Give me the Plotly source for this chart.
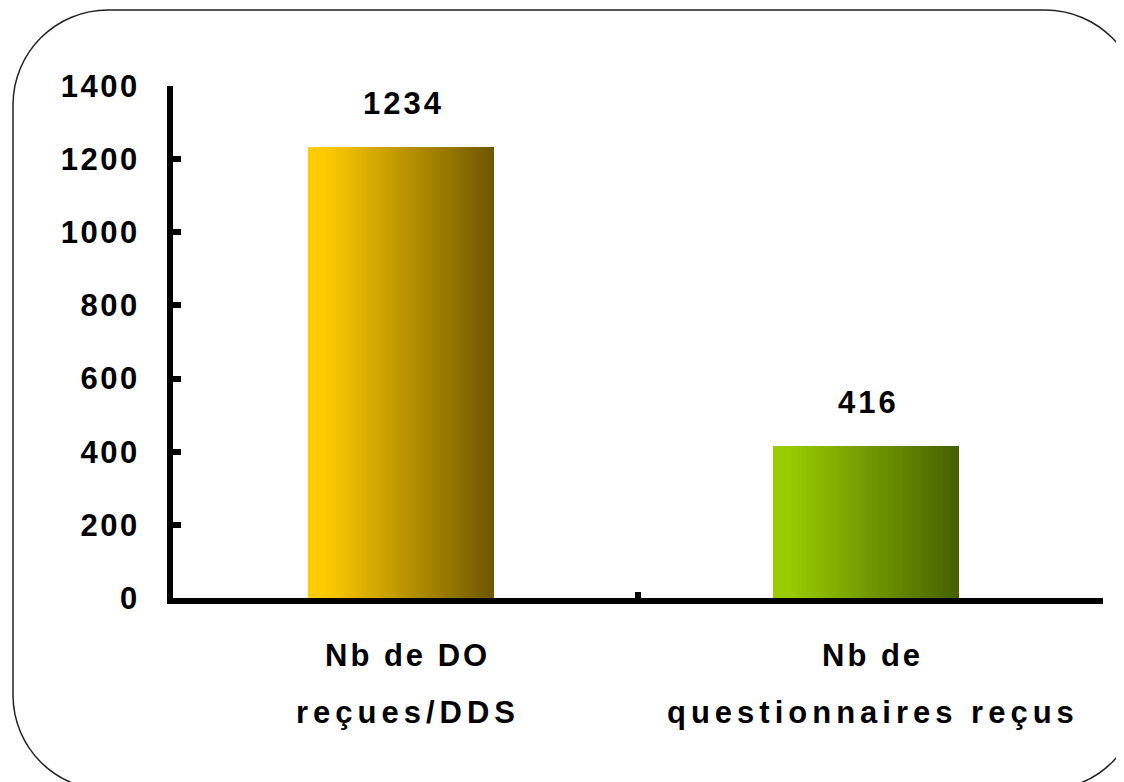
import plotly.graph_objects as go

# ---- data ----
categories = ["Nb de DO<br>reçues/DDS", "Nb de<br>questionnaires reçus"]
values = [1234, 416]
y_ticks = [0, 200, 400, 600, 800, 1000, 1200, 1400]
label_lines = [["Nb de DO", "reçues/DDS"], ["Nb de", "questionnaires reçus"]]

# gradient end colours per bar (left -> right)
grad_left = [(255, 204, 0), (153, 204, 0)]
grad_right = [(112, 88, 0), (70, 96, 0)]

FONT = "Liberation Sans, Arial, sans-serif"
OFF = 8  # page body margin
W, H = 1124 - OFF, 782 - OFF
L, R, T, B = 165, 21, 78, 184
PW, PH = W - L - R, H - T - B


def spaced(s, ls):
    return "<span style='letter-spacing:%spx'>%s</span>" % (ls, s)


fig = go.Figure()

bar_w = 0.40
bar_shift = -0.01
N = 60
step = bar_w / N


def mix(c1, c2, t):
    return "rgb(%d,%d,%d)" % tuple(round(a + (b - a) * t) for a, b in zip(c1, c2))


for i in range(N):
    t = i / (N - 1)
    t = max(0.0, (t - 0.08) / 0.92)
    cols = [mix(grad_left[k], grad_right[k], t) for k in range(len(values))]
    w = step * (1.3 if i < N - 1 else 1.0)
    fig.add_trace(go.Bar(
        x=categories, y=values, width=w, offset=bar_shift - bar_w / 2 + i * step,
        marker=dict(color=cols, line=dict(width=0)),
        showlegend=False, hoverinfo="skip"))

# value labels above bars
for c, v in zip(categories, values):
    fig.add_annotation(x=c, y=v, xref="x", yref="y", text=spaced(str(v), 3), showarrow=False,
                       yanchor="bottom", yshift=24, xshift=-2,
                       font=dict(family=FONT, size=31, color="black", weight="bold"))

# category labels (two lines each, wider line spacing)
line_ls = [3, 5]
for c, lines in zip(categories, label_lines):
    for j, ln in enumerate(lines):
        fig.add_annotation(x=c, y=0, xref="x", yref="y", text=spaced(ln, line_ls[j]),
                           showarrow=False, yanchor="middle", yshift=-57 - 57 * j, xshift=2,
                           font=dict(family=FONT, size=31, color="black", weight="bold"))


# rounded frame (page-pixel geometry converted to paper coords)
def px(x):
    return (x - OFF - L) / PW


def py(y):
    return (H - B - (y - OFF)) / PH


x0, y0, x1, y1, r = 13, 10, 1140, 790, 95
k = 0.5523 * r
pts = [
    ("M", [(x0 + r, y0)]),
    ("L", [(x1 - r, y0)]),
    ("C", [(x1 - r + k, y0), (x1, y0 + r - k), (x1, y0 + r)]),
    ("L", [(x1, y1 - r)]),
    ("C", [(x1, y1 - r + k), (x1 - r + k, y1), (x1 - r, y1)]),
    ("L", [(x0 + r, y1)]),
    ("C", [(x0 + r - k, y1), (x0, y1 - r + k), (x0, y1 - r)]),
    ("L", [(x0, y0 + r)]),
    ("C", [(x0, y0 + r - k), (x0 + r - k, y0), (x0 + r, y0)]),
]
path = ""
for cmd, ps in pts:
    path += cmd + " " + " ".join("%.5f,%.5f" % (px(a), py(b)) for a, b in ps) + " "
path += "Z"
fig.add_shape(type="path", path=path, xref="paper", yref="paper",
              line=dict(color="#222222", width=1.5), fillcolor="rgba(0,0,0,0)", layer="below")

fig.update_layout(
    width=W, height=H,
    margin=dict(l=L, r=R, t=T, b=B, pad=0),
    paper_bgcolor="white", plot_bgcolor="white",
    barmode="overlay", bargap=0,
    showlegend=False,
    font=dict(family=FONT, size=31, color="black"),
)
fig.update_xaxes(
    type="category", range=[-0.5, 1.5], showgrid=False, zeroline=False,
    showline=True, linecolor="black", linewidth=6,
    ticks="inside", tickson="boundaries", ticklen=6, tickwidth=6, tickcolor="black",
    showticklabels=False,
)
fig.update_yaxes(
    range=[0, 1400], tickvals=y_ticks, ticktext=[spaced(str(v), 2.5) for v in y_ticks],
    showgrid=False, zeroline=False,
    showline=True, linecolor="black", linewidth=6,
    ticks="inside", ticklen=8, tickwidth=6, tickcolor="black",
    tickfont=dict(family=FONT, size=31, color="black", weight="bold"),
    ticklabelstandoff=21,
)

fig.write_html("out.html")
